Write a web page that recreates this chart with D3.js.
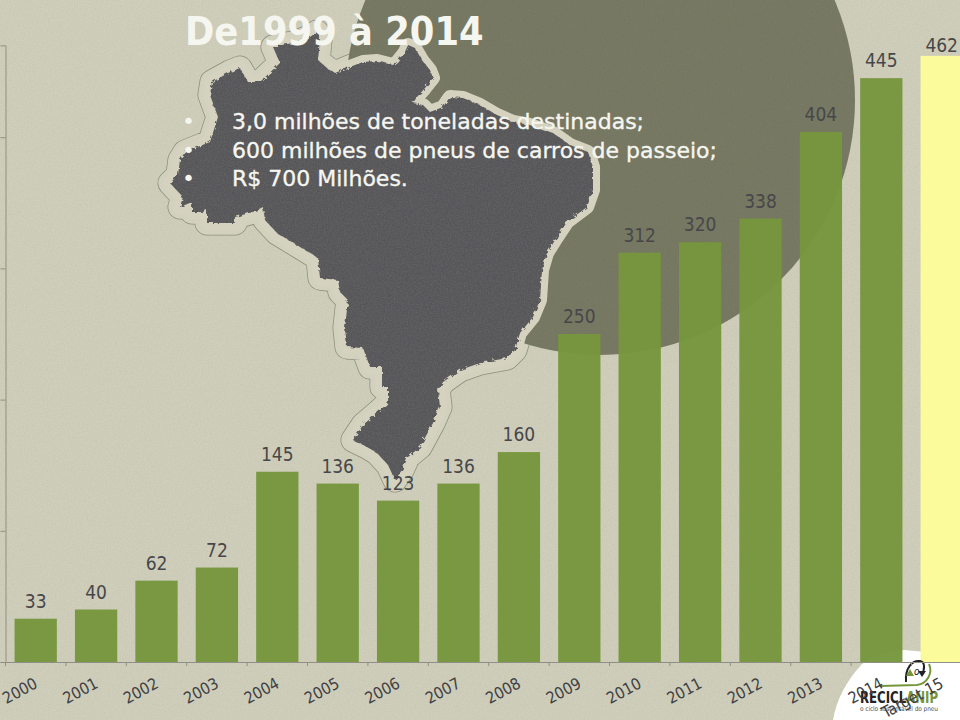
<!DOCTYPE html>
<html lang="pt">
<head>
<meta charset="UTF-8">
<title>De1999 à 2014</title>
<script src="https://d3js.org/d3.v7.min.js"></script>
<style>
html,body{margin:0;padding:0;background:#cfceba;overflow:hidden}
svg{display:block}
text{font-family:"DejaVu Sans",sans-serif;font-stretch:condensed}
.lista{font-stretch:normal}
</style>
</head>
<body>
<div id="chart"></div>
<script>
// dados
var labels=["2000","2001","2002","2003","2004","2005","2006","2007","2008","2009","2010","2011","2012","2013","2014","Target 15"];
var values=[33,40,62,72,145,136,123,136,160,250,312,320,338,404,445,462];
var yTicks=[0,100,200,300,400];
var titleText="De1999 à 2014";
var bullets=["3,0 milhões de toneladas destinadas;","600 milhões de pneus de carros de passeio;","R$ 700 Milhões."];
// contorno do mapa (decoração de fundo)
var brazil=[[273,47],[282,45],[293,43],[310,37],[317,32],[320,40],[318,60],[327,68],[335,73],[347,68],[363,62],[377,61],[393,65],[397,62],[405,52],[408,45],[415,48],[422,60],[430,70],[433,78],[425,88],[417,97],[413,103],[423,105],[430,112],[443,107],[450,97],[463,98],[480,105],[497,115],[513,122],[530,125],[553,133],[570,145],[588,152],[593,167],[593,190],[587,207],[567,222],[557,237],[547,253],[542,270],[540,300],[533,317],[520,333],[515,350],[507,358],[480,363],[460,370],[443,382],[438,390],[440,407],[433,423],[420,447],[408,457],[402,470],[395,480],[388,465],[377,453],[367,447],[353,440],[363,425],[377,413],[388,403],[388,387],[382,387],[382,367],[370,367],[363,348],[347,347],[345,328],[348,300],[340,292],[338,280],[320,278],[318,258],[300,247],[277,233],[265,220],[263,207],[253,212],[235,217],[235,223],[207,223],[207,210],[203,212],[192,212],[192,202],[180,207],[183,197],[170,183],[178,175],[180,160],[185,152],[210,142],[218,117],[210,95],[212,82],[230,72],[240,68],[248,82],[260,82],[280,63]];

var width=960,height=720,baseY=662,axisX=5.5;
var svg=d3.select("#chart").append("svg").attr("width",width).attr("height",height);

//filtros de textura
var defs=svg.append("defs");
var paper=defs.append("filter").attr("id","paper").attr("x",0).attr("y",0).attr("width","100%").attr("height","100%");
paper.append("feTurbulence").attr("type","fractalNoise").attr("baseFrequency",0.7).attr("numOctaves",2).attr("seed",4).attr("result","n");
paper.append("feColorMatrix").attr("in","n").attr("type","matrix")
    .attr("values","0 0 0 0 0.3  0 0 0 0 0.3  0 0 0 0 0.25  0 0 0 0.3 -0.1").attr("result","g");
paper.append("feComposite").attr("in","g").attr("in2","SourceGraphic").attr("operator","in").attr("result","gc");
paper.append("feMerge").selectAll("feMergeNode").data(["SourceGraphic","gc"]).enter().append("feMergeNode").attr("in",function(d){return d;});
var rough=defs.append("filter").attr("id","rough").attr("x","-5%").attr("y","-5%").attr("width","110%").attr("height","110%");
rough.append("feTurbulence").attr("type","fractalNoise").attr("baseFrequency",0.25).attr("numOctaves",2).attr("seed",7).attr("result","t");
rough.append("feDisplacementMap").attr("in","SourceGraphic").attr("in2","t").attr("scale",5);

//fundo
svg.append("rect").attr("width",width).attr("height",height).attr("fill","#d0cfbb").attr("filter","url(#paper)");

var mapLine=d3.line().curve(d3.curveLinearClosed);
var mapPath=mapLine(brazil);

//linha fina do contorno fica por baixo do círculo
svg.append("path").attr("d",mapPath).attr("fill","none").attr("stroke","#8d8d80").attr("stroke-width",25).attr("stroke-linejoin","round");
svg.append("path").attr("d",mapPath).attr("fill","none").attr("stroke","#d2d1bd").attr("stroke-width",23.5).attr("stroke-linejoin","round");
svg.append("circle").attr("cx",600).attr("cy",100).attr("r",255).attr("fill","#747760").attr("filter","url(#paper)");
svg.append("path").attr("d",mapPath).attr("fill","none").attr("stroke","#d5d3bf").attr("stroke-width",14).attr("stroke-linejoin","round");
svg.append("g").attr("filter","url(#paper)")
    .append("path").attr("d",mapPath).attr("fill","#56565a").attr("filter","url(#rough)");

//área branca do logo
svg.append("path").attr("d","M833,720Q838,690 862,664Q880,652 904,650L960,655L960,720Z").attr("fill","#ffffff");

//escalas
var x=d3.scaleBand().domain(labels).range([axisX,axisX+60.4*16]).paddingInner(0.3).paddingOuter(0.15);
var y=d3.scaleLinear().domain([0,470]).range([baseY,baseY-470*1.312]);

//eixos
var yAxis=d3.axisLeft(y).tickValues(yTicks).tickSize(5).tickFormat("");
var gy=svg.append("g").attr("transform","translate("+axisX+",0)").call(yAxis);
gy.selectAll("path,line").attr("stroke","#8f8f85");

//barras
svg.append("g").selectAll("rect").data(values).enter().append("rect")
    .attr("x",function(d,i){return x(labels[i]);})
    .attr("y",function(d){return y(d);})
    .attr("width",x.bandwidth())
    .attr("height",function(d){return baseY-y(d);})
    .attr("fill",function(d,i){return i==values.length-1?"#fbfb9b":"#76963c";})
    .attr("fill-opacity",function(d,i){return i==values.length-1?1:0.96;});

svg.append("g").selectAll("text").data(values).enter().append("text")
    .attr("x",function(d,i){return x(labels[i])+x.bandwidth()/2;})
    .attr("y",function(d,i){return y(d)-(i==values.length-1?4:11);})
    .attr("text-anchor","middle")
    .attr("font-size",19)
    .attr("fill","#47474a")
    .text(function(d){return d;});

//logo
var logoG=svg.append("g");
logoG.append("path").attr("d","M880,686L917,685A15,15 0 0 0 929,664").attr("stroke","#76963c").attr("stroke-width",2).attr("fill","none");
logoG.append("path").attr("d","M906,682C905,668 912,660 920,661C925,662 925,668 922,675").attr("stroke","#222").attr("stroke-width",2).attr("fill","none");
logoG.append("path").attr("d","M918,671L926,671L922,677Z").attr("fill","#222");
logoG.append("path").attr("d","M906,676L914,676L910,669Z").attr("fill","#76963c");
logoG.append("text").attr("x",914).attr("y",675).attr("font-size",10).attr("font-style","italic").attr("fill","#222").text("o");
logoG.append("text").attr("x",860).attr("y",703).attr("font-size",16).attr("font-weight","bold").attr("fill","#222").attr("textLength",78).attr("lengthAdjust","spacingAndGlyphs")
    .html('RECICL<tspan fill="#76963c">ANIP</tspan>');
logoG.append("text").attr("x",860).attr("y",711).attr("font-size",6.5).attr("fill","#555").attr("textLength",78).text("o ciclo sustentável do pneu");

var xAxis=d3.axisBottom(x).tickSize(0).tickPadding(0);
var gx=svg.append("g").attr("transform","translate(0,"+baseY+")").call(xAxis);
gx.select(".domain").attr("stroke","#8f8f85");
gx.selectAll("text")
    .attr("text-anchor","end")
    .attr("font-size",16)
    .attr("font-family",null)
    .attr("fill","#404044")
    .attr("dy",null).attr("y",0)
    .attr("transform","translate(3,25) rotate(-28)");
//marcas entre as categorias
svg.append("g").selectAll("line").data(labels).enter().append("line")
    .attr("x1",function(d){return x(d)-x.step()*0.15;})
    .attr("x2",function(d){return x(d)-x.step()*0.15;})
    .attr("y1",baseY).attr("y2",baseY+4)
    .attr("stroke","#8f8f85");

//título e lista
svg.append("text").attr("x",185).attr("y",45).attr("font-size",39.3).attr("font-weight","bold").attr("fill","#f6f6f0").text(titleText);
var list=svg.append("g").attr("class","lista").selectAll("g").data(bullets).enter().append("g")
    .attr("transform",function(d,i){return "translate(0,"+(129+i*28.7)+")";});
list.append("text").attr("class","lista").attr("x",182).attr("font-size",22).attr("fill","#f6f6f0").text("•");
list.append("text").attr("class","lista").attr("x",232).attr("font-size",22).attr("fill","#f6f6f0")
    .attr("stroke","#f6f6f0").attr("stroke-width",0.35).text(function(d){return d;});
</script>
</body>
</html>
